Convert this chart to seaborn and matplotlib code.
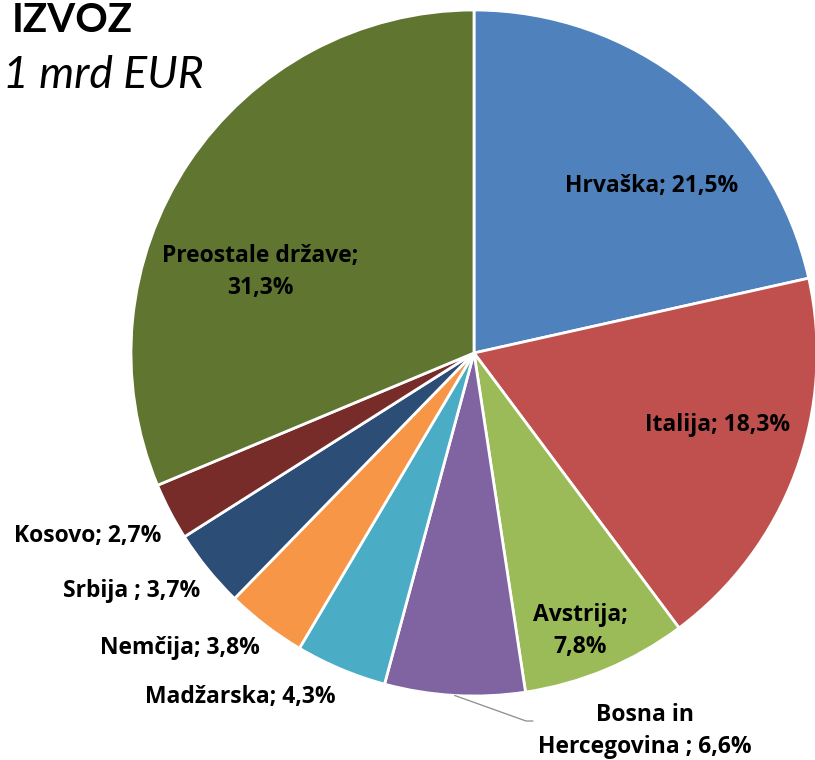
import numpy as np
import matplotlib
matplotlib.use("Agg")
import matplotlib.pyplot as plt
import seaborn as sns

# export shares by destination, %
countries = ["Hrvaška", "Italija", "Avstrija", "Bosna in\nHercegovina ", "Madžarska",
             "Nemčija", "Srbija ", "Kosovo", "Preostale države"]
shares = [21.5, 18.3, 7.8, 6.6, 4.3, 3.8, 3.7, 2.7, 31.3]
colors = ["#4F81BD", "#C0504D", "#9BBB59", "#8064A2", "#4BACC6",
          "#F79646", "#2C4D75", "#772C2A", "#5F7530"]

# label layout in pixel coordinates (centre of each text block)
label_xy = [(652, 186), (718, 425), (580, 631), (645, 731), (240, 697),
            (180, 648), (132, 591), (88, 536), (260, 272)]
label_fmt = ["{}; {}%", "{}; {}%", "{};\n{}%", "{}; {}%", "{}; {}%",
             "{}; {}%", "{}; {}%", "{}; {}%", "{};\n{}%"]

W, H = 815, 760
CX, CY, R = 474, 353, 343

sns.set_theme(style="white")
plt.rcParams["font.family"] = ["Open Sans", "DejaVu Sans"]

fig = plt.figure(figsize=(W / 100, H / 100), dpi=100)
ax = fig.add_axes([0, 0, 1, 1])

# y axis runs downward so pixel coords can be used; counterclock then looks clockwise
wedges, _ = ax.pie(shares, colors=sns.color_palette(colors), center=(CX, CY), radius=R,
                   startangle=-90, counterclock=True,
                   wedgeprops=dict(edgecolor="white", linewidth=2))
ax.set_xlim(0, W)
ax.set_ylim(H, 0)
ax.set_aspect("equal")
ax.axis("off")

for name, val, fmt, (x, y) in zip(countries, shares, label_fmt, label_xy):
    txt = fmt.format(name, f"{val:.1f}".replace(".", ","))
    ax.text(x, y, txt, ha="center", va="center", fontsize=16.5,
            fontweight="bold", color="black", linespacing=1.45)

# leader line for Bosna in Hercegovina
w = wedges[3]
mid = np.deg2rad((w.theta1 + w.theta2) / 2)
x0, y0 = CX + R * np.cos(mid), CY + R * np.sin(mid)
ax.plot([x0, 526, 533], [y0, 721, 721], color="#8C8C8C", linewidth=0.9)

ax.text(12, 20, "IZVOZ", ha="left", va="center", fontsize=29, fontweight="bold",
        color="black", family=["Lato", "DejaVu Sans"])
ax.text(3, 76, "1 mrd EUR", ha="left", va="center", fontsize=32, fontstyle="italic",
        color="black", family=["Lato", "DejaVu Sans"])

fig.savefig("out.png", dpi=100)
